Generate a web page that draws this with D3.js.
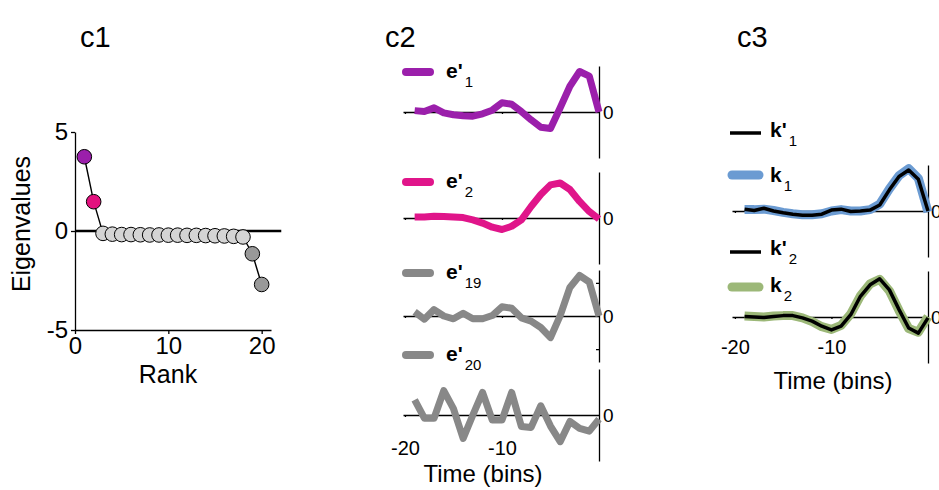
<!DOCTYPE html>
<html>
<head>
<meta charset="utf-8">
<script src="https://cdn.jsdelivr.net/npm/d3@7"></script>
<style>
  body { margin: 0; background: #fff; }
  text { font-family: "Liberation Sans", Arial, sans-serif; fill: #000; }
</style>
</head>
<body>
<svg id="chart" width="939" height="490"></svg>
<script>
// ---- data ----
const ranks = [1, 2, 3, 4, 5, 6, 7, 8, 9, 10, 11, 12, 13, 14, 15, 16, 17, 18, 19, 20];
const eigenvalues = [3.75, 1.48, -0.12, -0.16, -0.18, -0.18, -0.19, -0.2, -0.2, -0.21,
  -0.21, -0.22, -0.22, -0.23, -0.24, -0.25, -0.27, -0.3, -1.15, -2.7];

const timeBins = [-19, -18, -17, -16, -15, -14, -13, -12, -11, -10, -9, -8, -7, -6, -5, -4, -3, -2, -1, 0];

const e1 = [0.03, 0.01, 0.09, -0.02, -0.06, -0.08, -0.09, -0.04, 0.04, 0.2,
  0.17, 0.01, -0.17, -0.33, -0.36, 0.09, 0.56, 0.88, 0.78, 0.0];
const e2 = [0.02, 0.02, 0.04, 0.03, 0.02, 0.01, -0.04, -0.11, -0.2, -0.25,
  -0.18, -0.04, 0.25, 0.51, 0.72, 0.76, 0.62, 0.36, 0.14, -0.02];
const e19 = [0.09, -0.07, 0.14, 0.0, -0.06, 0.06, -0.06, -0.06, 0.01, 0.2,
  0.17, -0.04, -0.11, -0.25, -0.47, 0.01, 0.62, 0.88, 0.74, 0.0];
const e20 = [0.33, -0.07, -0.07, 0.53, 0.14, -0.51, 0.0, 0.49, -0.11, -0.11,
  0.49, -0.25, -0.27, 0.2, -0.24, -0.58, -0.14, -0.29, -0.35, -0.09];

const k1 = [0.03, 0.03, 0.04, 0.01, -0.03, -0.06, -0.08, -0.08, -0.06, 0.0,
  0.03, 0.0, 0.0, 0.03, 0.15, 0.48, 0.77, 0.92, 0.71, -0.02];
const k1p = [0.04, 0.01, 0.06, 0.0, -0.04, -0.07, -0.09, -0.09, -0.07, 0.02,
  0.04, -0.01, 0.0, 0.02, 0.13, 0.46, 0.75, 0.89, 0.69, 0.0];
const k2 = [0.02, 0.01, 0.0, 0.02, 0.03, 0.03, -0.02, -0.1, -0.21, -0.27,
  -0.18, 0.07, 0.46, 0.72, 0.82, 0.57, 0.14, -0.25, -0.33, 0.01];
const k2p = [0.01, 0.0, -0.01, 0.01, 0.03, 0.03, -0.02, -0.09, -0.2, -0.28,
  -0.2, 0.05, 0.45, 0.7, 0.83, 0.59, 0.16, -0.24, -0.35, -0.02];

const PURPLE = "#9b1fab";
const MAGENTA = "#e0158a";
const GRAY = "#888888";
const BLUE = "#6b9bd2";
const GREEN = "#9cb878";

const svg = d3.select("#chart");
const plain = d => String(d); // hyphen minus, no decimals

function styleAxis(g, size) {
  g.attr("font-family", null).attr("font-size", size);
  g.selectAll(".domain, .tick line").attr("stroke", "#000").attr("stroke-width", 1.3);
  g.selectAll("text").attr("fill", "#000");
  return g;
}

function legendLabel(x, y, main, sub) {
  const t = svg.append("text").attr("x", x).attr("y", y).attr("font-size", 21);
  t.append("tspan").attr("font-weight", "bold").text(main);
  t.append("tspan").attr("dx", 2).attr("dy", 9).attr("font-size", 15).text(sub);
}

// ---- titles ----
[["c1", 80], ["c2", 385], ["c3", 737]].forEach(([t, x]) => {
  svg.append("text").attr("x", x).attr("y", 47).attr("font-size", 29).text(t);
});

// ---- c1: eigenvalues ----
const x1 = d3.scaleLinear([0, 21], [75, 271]);
const y1 = d3.scaleLinear([-5, 5], [330, 132]);

styleAxis(svg.append("g").attr("transform", "translate(75,0)")
  .call(d3.axisLeft(y1).tickValues([-5, 0, 5]).tickFormat(plain)
    .tickSize(4).tickSizeOuter(0).tickPadding(3)), 24);
styleAxis(svg.append("g").attr("transform", "translate(0,330)")
  .call(d3.axisBottom(x1).tickValues([0, 10, 20]).tickFormat(plain)
    .tickSize(4).tickSizeOuter(0).tickPadding(3)), 24);

svg.append("line")
  .attr("x1", x1(0)).attr("x2", x1(22.1))
  .attr("y1", y1(0)).attr("y2", y1(0))
  .attr("stroke", "#000").attr("stroke-width", 2.5);

const eig = ranks.map((r, i) => [r, eigenvalues[i]]);
svg.append("path")
  .datum(eig)
  .attr("fill", "none").attr("stroke", "#000").attr("stroke-width", 1.4)
  .attr("d", d3.line().x(d => x1(d[0])).y(d => y1(d[1])));

const rankColor = r => r === 1 ? PURPLE : r === 2 ? "#e3127f" : r >= 19 ? "#999999" : "#d4d4d4";
svg.append("g").selectAll("circle")
  .data(eig)
  .join("circle")
  .attr("cx", d => x1(d[0])).attr("cy", d => y1(d[1]))
  .attr("r", 7.3)
  .attr("fill", d => rankColor(d[0]))
  .attr("stroke", "#000").attr("stroke-width", 1);

svg.append("text")
  .attr("transform", "translate(30,224) rotate(-90)")
  .attr("text-anchor", "middle").attr("font-size", 25)
  .text("Eigenvalues");
svg.append("text")
  .attr("x", 168).attr("y", 383)
  .attr("text-anchor", "middle").attr("font-size", 25)
  .text("Rank");

// ---- c2: eigenvectors ----
const x2 = d3.scaleLinear([-20.2, 0], [403, 599]);
const c2Panels = [
  { values: e1, color: PURPLE, zero: 112, sub: "1", legendY: 72, ticks: [] },
  { values: e2, color: MAGENTA, zero: 218, sub: "2", legendY: 182, ticks: [] },
  { values: e19, color: GRAY, zero: 316, sub: "19", legendY: 273, ticks: [-0.72, 0.72] },
  { values: e20, color: GRAY, zero: 415, sub: "20", legendY: 355, ticks: [] },
];

c2Panels.forEach((p, i) => {
  const y = d3.scaleLinear([-1, 1], [p.zero + 46, p.zero - 46]);

  styleAxis(svg.append("g").attr("transform", `translate(0,${p.zero})`)
    .call(d3.axisBottom(x2).tickValues([-20, -10]).tickSize(2).tickSizeOuter(0).tickFormat("")), 19);

  styleAxis(svg.append("g").attr("transform", "translate(599,0)")
    .call(d3.axisRight(y).tickValues([0]).tickFormat(plain)
      .tickSize(0).tickSizeOuter(0).tickPadding(4)), 19);

  if (p.ticks.length) {
    styleAxis(svg.append("g").attr("transform", "translate(599,0)")
      .call(d3.axisLeft(y).tickValues(p.ticks).tickSize(3).tickSizeOuter(0).tickFormat(""))
      .call(g => g.select(".domain").remove()), 19);
  }

  svg.append("path")
    .datum(timeBins.map((t, j) => [t, p.values[j]]))
    .attr("fill", "none").attr("stroke", p.color)
    .attr("stroke-width", 7).attr("stroke-linejoin", "round")
    .attr("d", d3.line().x(d => x2(d[0])).y(d => y(d[1])));

  svg.append("line")
    .attr("x1", 406).attr("x2", 430)
    .attr("y1", p.legendY).attr("y2", p.legendY)
    .attr("stroke", p.color).attr("stroke-width", 8).attr("stroke-linecap", "round");
  legendLabel(446, p.legendY + 6, "e'", p.sub);

  if (i === c2Panels.length - 1) {
    styleAxis(svg.append("g").attr("transform", `translate(0,${p.zero})`)
      .call(d3.axisBottom(x2).tickValues([-20, -10]).tickFormat(plain)
        .tickSize(0).tickSizeOuter(0).tickPadding(26))
      .call(g => g.select(".domain").remove()), 20);
  }
});

svg.append("text")
  .attr("x", 483).attr("y", 482)
  .attr("text-anchor", "middle").attr("font-size", 24)
  .text("Time (bins)");

// ---- c3: filters ----
const x3 = d3.scaleLinear([-20.3, 0], [732, 928]);
const c3Panels = [
  { fit: k1, est: k1p, color: BLUE, zero: 211, sub: "1", estY: 133, fitY: 175, estBase: 137, fitBase: 182 },
  { fit: k2, est: k2p, color: GREEN, zero: 317, sub: "2", estY: 252, fitY: 287, estBase: 255, fitBase: 292 },
];

c3Panels.forEach((p, i) => {
  const y = d3.scaleLinear([-1, 1], [p.zero + 46, p.zero - 46]);
  const line = d3.line().x(d => x3(d[0])).y(d => y(d[1]));

  styleAxis(svg.append("g").attr("transform", `translate(0,${p.zero})`)
    .call(d3.axisBottom(x3).tickValues([-20, -10]).tickSize(2).tickSizeOuter(0).tickFormat("")), 19);
  styleAxis(svg.append("g").attr("transform", "translate(928,0)")
    .call(d3.axisRight(y).tickValues([0]).tickFormat(plain)
      .tickSize(0).tickSizeOuter(0).tickPadding(3)), 19);

  svg.append("path")
    .datum(timeBins.map((t, j) => [t, p.fit[j]]))
    .attr("fill", "none").attr("stroke", p.color)
    .attr("stroke-width", 9).attr("stroke-linejoin", "round")
    .attr("d", line);
  svg.append("path")
    .datum(timeBins.map((t, j) => [t, p.est[j]]))
    .attr("fill", "none").attr("stroke", "#000")
    .attr("stroke-width", 3.5).attr("stroke-linejoin", "round")
    .attr("d", line);

  svg.append("line")
    .attr("x1", 730).attr("x2", 761)
    .attr("y1", p.estY).attr("y2", p.estY)
    .attr("stroke", "#000").attr("stroke-width", 3.5);
  legendLabel(770, p.estBase, "k'", p.sub);

  svg.append("line")
    .attr("x1", 732).attr("x2", 759)
    .attr("y1", p.fitY).attr("y2", p.fitY)
    .attr("stroke", p.color).attr("stroke-width", 9).attr("stroke-linecap", "round");
  legendLabel(770, p.fitBase, "k", p.sub);

  if (i === c3Panels.length - 1) {
    styleAxis(svg.append("g").attr("transform", `translate(0,${p.zero})`)
      .call(d3.axisBottom(x3).tickValues([-20, -10]).tickFormat(plain)
        .tickSize(0).tickSizeOuter(0).tickPadding(23))
      .call(g => g.select(".domain").remove()), 20);
  }
});

svg.append("text")
  .attr("x", 833).attr("y", 389)
  .attr("text-anchor", "middle").attr("font-size", 24)
  .text("Time (bins)");
</script>
</body>
</html>
